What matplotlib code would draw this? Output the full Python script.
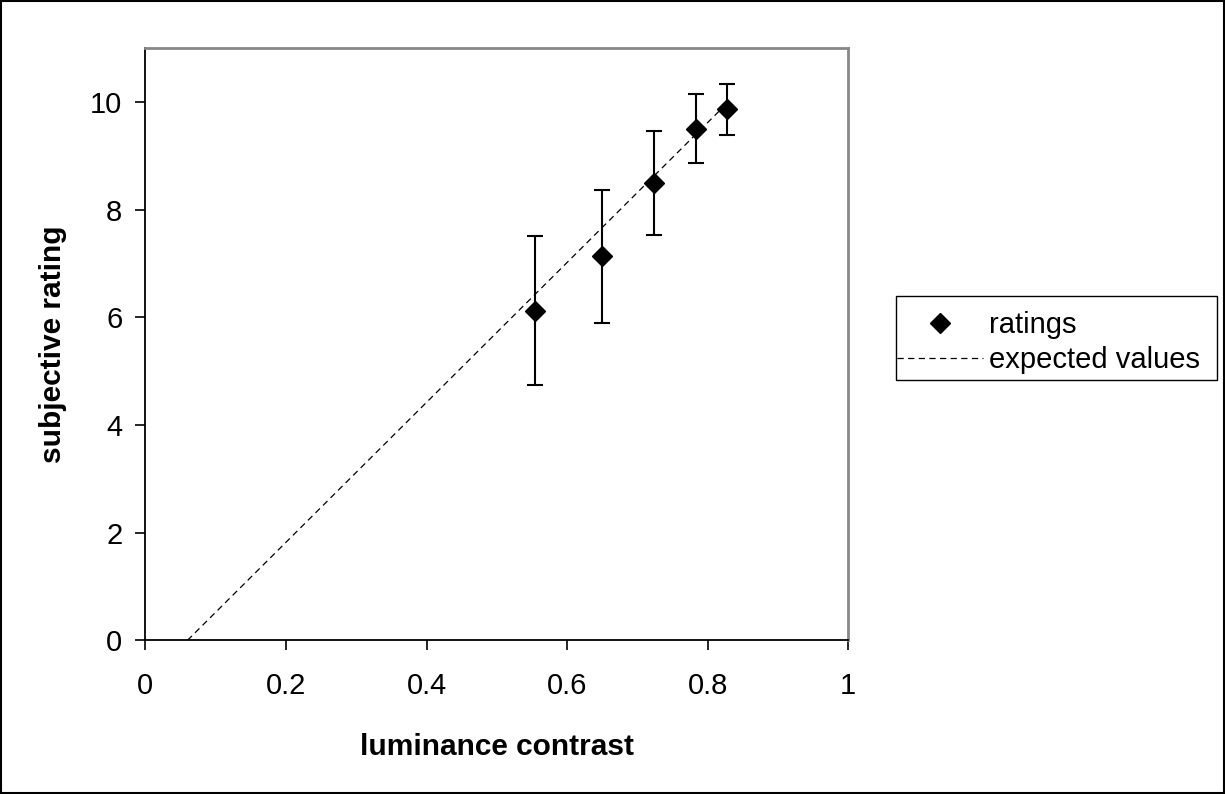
import numpy as np
import matplotlib
matplotlib.use('Agg')
import matplotlib.pyplot as plt
from matplotlib.lines import Line2D
from matplotlib.patches import Rectangle

plt.rcParams['font.family'] = ['Liberation Sans', 'DejaVu Sans']

# ---- data ----
contrast = [0.555, 0.650, 0.724, 0.784, 0.828]
rating = [6.12, 7.13, 8.49, 9.50, 9.86]
rating_err = [1.38, 1.23, 0.97, 0.64, 0.48]

expected_x = [0.060, 0.828]
expected_y = [0.0, 9.98]

x_ticks = [0, 0.2, 0.4, 0.6, 0.8, 1]
x_tick_labels = ['0', '0.2', '0.4', '0.6', '0.8', '1']
y_ticks = [0, 2, 4, 6, 8, 10]

W, H = 1225, 794
FS = 21
DASH = (0, (5, 3.5))

fig = plt.figure(figsize=(W / 100, H / 100), dpi=100)
ax = fig.add_axes([145.3 / W, 1 - 640.3 / H, 703 / W, 592.3 / H])

ax.errorbar(contrast, rating, yerr=rating_err, fmt='D', color='black',
            ms=10.5, elinewidth=1.5, capsize=6, capthick=1.5, zorder=3)
ax.plot(expected_x, expected_y, color='black', lw=0.9, ls=DASH, zorder=2)

ax.set_xlim(0, 1)
ax.set_ylim(0, 11)
ax.set_xticks(x_ticks)
ax.set_xticklabels(x_tick_labels)
ax.set_yticks(y_ticks)
ax.tick_params(direction='out', length=7.5, width=1.2, labelsize=FS)
ax.tick_params(axis='x', pad=15)
ax.tick_params(axis='y', pad=9)

for side in ['left', 'bottom']:
    ax.spines[side].set_color('black')
    ax.spines[side].set_linewidth(1.3)
for side in ['top', 'right']:
    ax.spines[side].set_color('#888888')
    ax.spines[side].set_linewidth(2)

ax.set_xlabel('luminance contrast', fontsize=21.5, fontweight='bold', labelpad=24)
ax.set_ylabel('subjective rating', fontsize=21.5, fontweight='bold', labelpad=17)

# legend, with its frame drawn separately so the dashed handle touches the box edge
handles = [Line2D([], [], ls='none', marker='D', ms=10.5, color='black'),
           Line2D([], [], color='black', lw=0.9, ls=DASH)]
labels = ['ratings', 'expected values']
fig.legend(handles, labels, loc='center left',
           bbox_to_anchor=(897 / W, 1 - 342.5 / H), fontsize=FS, frameon=False,
           handlelength=2.95, handletextpad=0.2, borderpad=0, borderaxespad=0,
           labelspacing=0.25)
fig.patches.append(Rectangle((896 / W, 1 - 380 / H), 321 / W, 84 / H,
                             transform=fig.transFigure, fill=False,
                             edgecolor='black', lw=1.0))

# outer chart border
fig.patches.append(Rectangle((0.001, 0.001), 0.998, 0.998, transform=fig.transFigure,
                             fill=False, edgecolor='black', lw=1.5))

fig.savefig('out.png', dpi=100)
